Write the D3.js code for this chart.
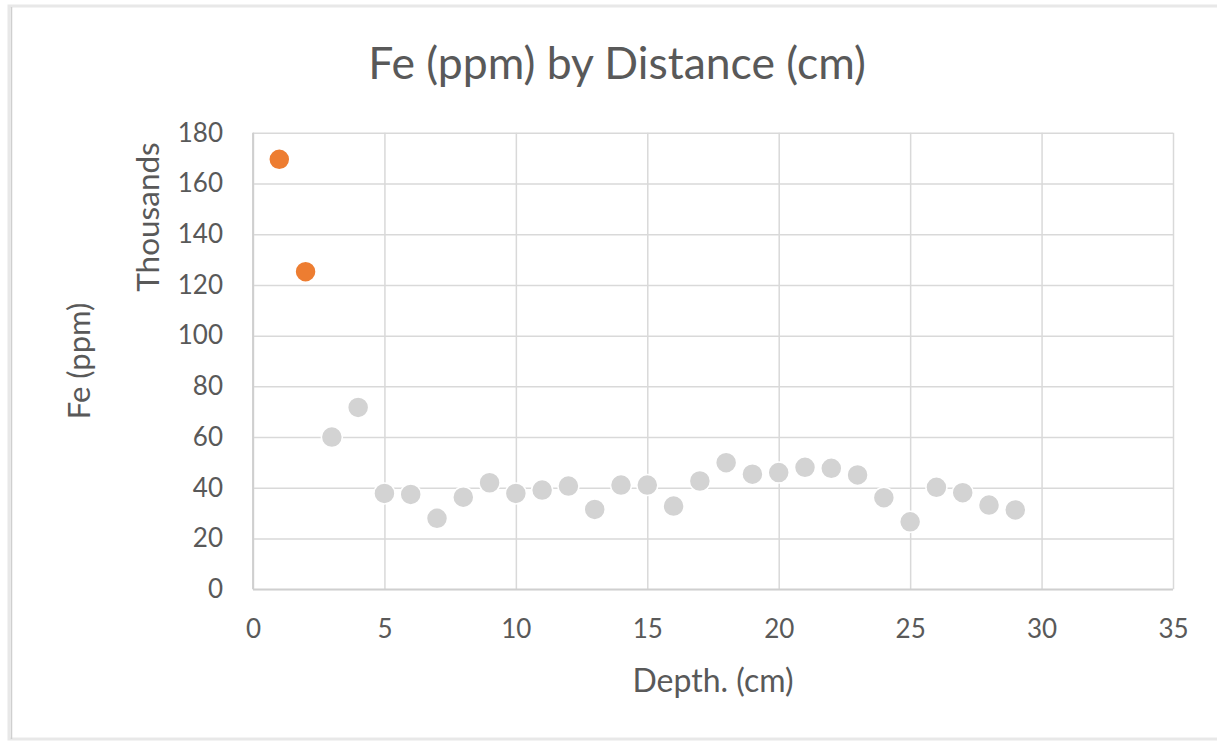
<!DOCTYPE html>
<html>
<head>
<meta charset="utf-8">
<script src="https://cdn.jsdelivr.net/npm/d3@7"></script>
<style>
  body { margin: 0; background: #fff; }
  svg { display: block; font-family: Lato, "Open Sans", sans-serif; }
</style>
</head>
<body>
<div id="chart"></div>
<script>
// depth (cm) and Fe (ppm, thousands)
const depths = [1, 2, 3, 4, 5, 6, 7, 8, 9, 10, 11, 12, 13, 14, 15, 16, 17, 18, 19, 20,
    21, 22, 23, 24, 25, 26, 27, 28, 29];
const feValues = [169.5, 125.2, 60, 71.7, 37.8, 37.4, 28.0, 36.3, 42.0, 37.8, 39.1, 40.7, 31.5, 41.1, 41.1, 32.8,
    42.7, 49.9, 45.4, 46.0, 48.1, 47.7, 45.1, 36.1, 26.6, 40.2, 38.1, 33.2, 31.3];
// first two samples are highlighted
const highlighted = [1, 2];
const xTicks = [0, 5, 10, 15, 20, 25, 30, 35];
const yTicks = [0, 20, 40, 60, 80, 100, 120, 140, 160, 180];

const width = 1217, height = 741;
const margin = {top: 132.7, right: 44, bottom: 151.7, left: 253};
const innerW = width - margin.left - margin.right;
const innerH = height - margin.top - margin.bottom;
const textColor = "#595959";

let svg = d3.select("#chart")
    .append("svg")
    .attr("width", width)
    .attr("height", height);

// chart frame
svg.append("rect")
    .attr("x", 9).attr("y", 6)
    .attr("width", width + 20).attr("height", 733)
    .attr("fill", "#fff")
    .attr("stroke", "#e8e8e8")
    .attr("stroke-width", 3);
svg.append("line")
    .attr("x1", 11.5).attr("x2", 11.5)
    .attr("y1", 7).attr("y2", 739)
    .attr("stroke", "#cfcfcf")
    .attr("stroke-width", 1.5);

let g = svg.append("g")
    .attr("transform", `translate(${margin.left}, ${margin.top})`);

let x = d3.scaleLinear().domain([0, 35]).range([0, innerW]);
let y = d3.scaleLinear().domain([0, 180]).range([innerH, 0]);

// gridlines
g.append("g")
    .attr("transform", `translate(0, ${innerH})`)
    .call(d3.axisBottom(x).tickValues(xTicks).tickSize(-innerH).tickFormat(""))
    .call(a => a.select(".domain").remove())
    .selectAll("line").attr("stroke", "#d9d9d9").attr("stroke-width", 1.5);
g.append("g")
    .call(d3.axisLeft(y).tickValues(yTicks).tickSize(-innerW).tickFormat(""))
    .call(a => a.select(".domain").remove())
    .selectAll("line").attr("stroke", "#d9d9d9").attr("stroke-width", 1.5);

// axis lines
g.append("line")
    .attr("x1", 0).attr("x2", innerW)
    .attr("y1", innerH).attr("y2", innerH)
    .attr("stroke", "#cfcfcf").attr("stroke-width", 1.8);
g.append("line")
    .attr("x1", 0).attr("x2", 0)
    .attr("y1", 0).attr("y2", innerH)
    .attr("stroke", "#cfcfcf").attr("stroke-width", 1.8);

// tick labels
let xAxis = g.append("g")
    .attr("transform", `translate(0, ${innerH})`)
    .call(d3.axisBottom(x).tickValues(xTicks).tickSize(0).tickPadding(30));
xAxis.select(".domain").remove();
xAxis.selectAll("text").attr("fill", textColor).style("font-size", "26px").style("font-family", "Lato");

let yAxis = g.append("g")
    .call(d3.axisLeft(y).tickValues(yTicks).tickSize(0).tickPadding(30));
yAxis.select(".domain").remove();
yAxis.selectAll("text").attr("fill", textColor).style("font-size", "26px").style("font-family", "Lato");

// points
g.selectAll("circle")
    .data(depths.map((d, i) => ({depth: d, fe: feValues[i]})))
    .enter()
    .append("circle")
    .attr("cx", d => x(d.depth))
    .attr("cy", d => y(d.fe))
    .attr("r", 10.5)
    .attr("fill", d => highlighted.includes(d.depth) ? "#ED7D31" : "#D3D3D3")
    .attr("stroke", "#fff")
    .attr("stroke-width", 1.5);

// title
svg.append("text")
    .attr("x", 617).attr("y", 79)
    .attr("text-anchor", "middle")
    .attr("fill", textColor)
    .style("font-size", "44.5px")
    .text("Fe (ppm) by Distance (cm)");

// x axis label
svg.append("text")
    .attr("x", margin.left + innerW / 2).attr("y", 692)
    .attr("text-anchor", "middle")
    .attr("fill", textColor)
    .style("font-size", "32px")
    .text("Depth. (cm)");

// y axis labels
svg.append("text")
    .attr("transform", `translate(90, ${margin.top + innerH / 2}) rotate(-90)`)
    .attr("text-anchor", "middle")
    .attr("fill", textColor)
    .style("font-size", "31px")
    .text("Fe (ppm)");

svg.append("text")
    .attr("transform", `translate(159, 217) rotate(-90)`)
    .attr("text-anchor", "middle")
    .attr("fill", textColor)
    .style("font-size", "31.5px")
    .text("Thousands");
</script>
</body>
</html>
